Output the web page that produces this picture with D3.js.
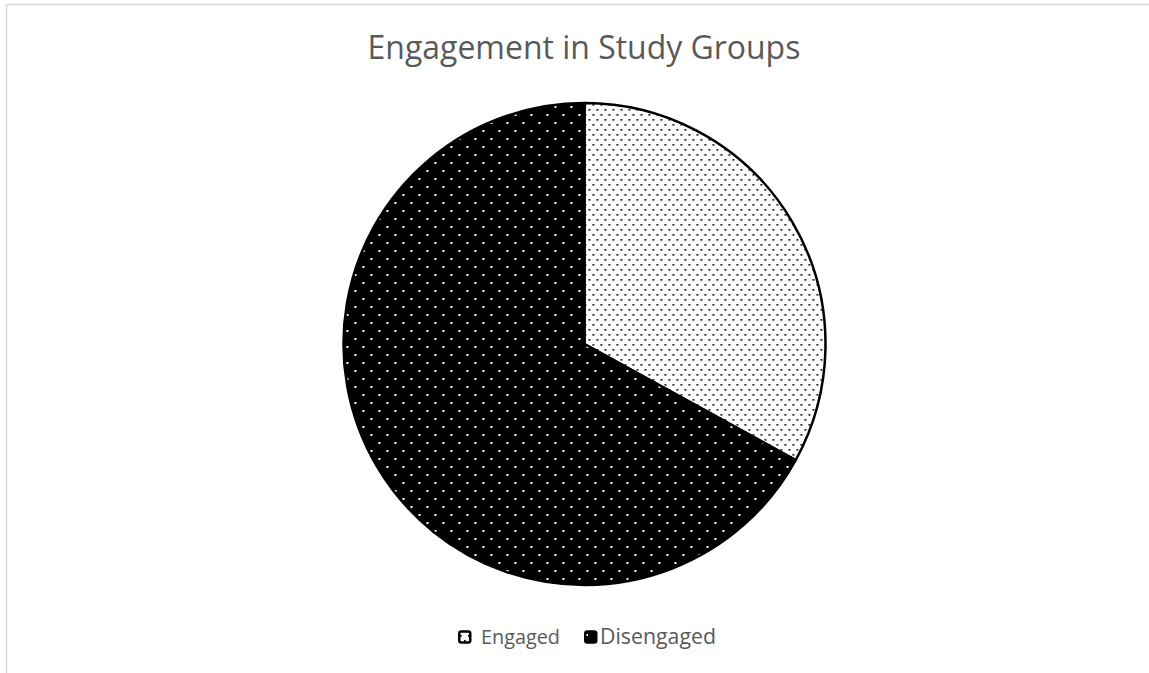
<!DOCTYPE html>
<html><head><meta charset="utf-8">
<script src="https://cdn.jsdelivr.net/npm/d3@7"></script>
<style>html,body{margin:0;padding:0;background:#fff;}</style>
</head><body>
<svg id="chart" width="1149" height="673"></svg>
<script>
const title = "Engagement in Study Groups";
const categories = ["Engaged", "Disengaged"];
const values = [33, 67];

const svg = d3.select("#chart");
const W = 1149, H = 673;
const font = "'Open Sans', 'Noto Sans', sans-serif";

// chart border
svg.append("rect").attr("x", 6.5).attr("y", 4.5).attr("width", 1300).attr("height", 800)
  .attr("fill", "#fff").attr("stroke", "#d9d9d9").attr("stroke-width", 1.5);

const defs = svg.append("defs");
// Engaged: white background, black dots
const p1 = defs.append("pattern").attr("id", "pEng").attr("patternUnits", "userSpaceOnUse")
  .attr("width", 8).attr("height", 10);
p1.append("rect").attr("width", 8).attr("height", 10).attr("fill", "#fff");
p1.append("rect").attr("x", 0).attr("y", 0).attr("width", 1.7).attr("height", 1.7).attr("fill", "#000");
p1.append("rect").attr("x", 4).attr("y", 5).attr("width", 1.7).attr("height", 1.7).attr("fill", "#000");
// Disengaged: black background, white dots
const p2 = defs.append("pattern").attr("id", "pDis").attr("patternUnits", "userSpaceOnUse")
  .attr("width", 16).attr("height", 16);
p2.append("rect").attr("width", 16).attr("height", 16).attr("fill", "#000");
p2.append("rect").attr("x", 2).attr("y", 2).attr("width", 2).attr("height", 2).attr("fill", "#fff");
p2.append("rect").attr("x", 10).attr("y", 10).attr("width", 2).attr("height", 2).attr("fill", "#fff");
const fills = ["url(#pEng)", "url(#pDis)"];

// title
const t = svg.append("text").attr("x", 584).attr("y", 59).attr("text-anchor", "middle")
  .attr("font-family", font).attr("font-size", 28).attr("fill", "#595959").text(title);
const tl = t.node().getComputedTextLength();
t.attr("font-size", 28 * 433 / tl);

const cx = 584.5, cy = 344, r = 241;
const pie = d3.pie().sort(null).value(d => d.v);
const arc = d3.arc().innerRadius(0).outerRadius(r);
const data = categories.map((c, i) => ({c, v: values[i]}));
const g = svg.append("g").attr("transform", `translate(${cx},${cy})`);
g.selectAll("path").data(pie(data)).join("path")
  .attr("d", arc)
  .attr("fill", (d, i) => fills[i])
  .attr("stroke", "#000").attr("stroke-width", 2.5).attr("stroke-linejoin", "round");

// legend
const legY = 637;
const legItems = [{x: 458, tx: 481}, {x: 584, tx: 600}];
const legTexts = [];
categories.forEach((c, i) => {
  const lg = svg.append("g");
  lg.append("rect").attr("x", legItems[i].x + 1.25).attr("y", legY - 5.5).attr("width", 11).attr("height", 11)
    .attr("rx", 2).attr("fill", fills[i]).attr("stroke", "#000").attr("stroke-width", 2.5);
  const lt = lg.append("text").attr("x", legItems[i].tx).attr("y", legY).attr("dy", "0.35em")
    .attr("font-family", font).attr("font-size", 18).attr("fill", "#595959").text(c);
  legTexts.push(lt.node());
});
const targets = [79, 116];
legTexts.forEach((n, i) => {
  const w = n.getComputedTextLength();
  d3.select(n).attr("font-size", 18 * targets[i] / w);
});
</script>
</body></html>
